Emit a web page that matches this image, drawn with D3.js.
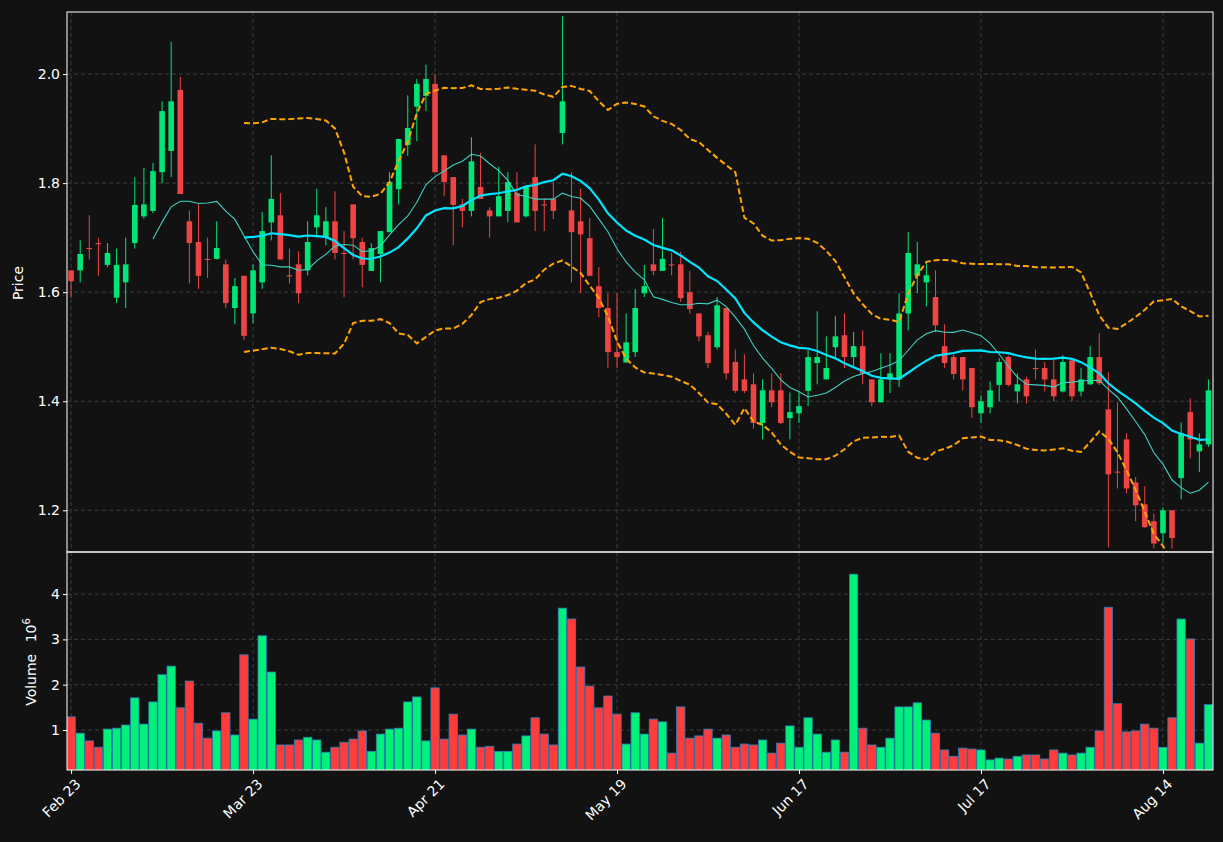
<!DOCTYPE html>
<html><head><meta charset="utf-8">
<script src="https://cdn.jsdelivr.net/npm/d3@7"></script>
<style>body{margin:0;background:#121212;}text{font-family:"DejaVu Sans",sans-serif;}</style>
</head><body><svg id="c" width="1223" height="842"></svg>
<script>
const opens  = [1.64,1.64,1.681,1.69,1.65,1.59,1.618,1.69,1.739,1.749,1.82,1.859,1.971,1.73,1.692,1.661,1.661,1.651,1.571,1.63,1.561,1.618,1.728,1.741,1.631,1.651,1.64,1.719,1.701,1.73,1.672,1.761,1.692,1.639,1.67,1.71,1.789,1.87,1.94,1.96,1.982,1.851,1.811,1.761,1.749,1.793,1.75,1.739,1.749,1.782,1.739,1.811,1.761,1.771,1.892,1.75,1.73,1.699,1.611,1.571,1.49,1.471,1.49,1.598,1.651,1.639,1.651,1.651,1.60,1.561,1.521,1.499,1.571,1.472,1.44,1.431,1.36,1.42,1.42,1.369,1.378,1.419,1.47,1.44,1.499,1.521,1.481,1.501,1.44,1.398,1.44,1.44,1.561,1.63,1.618,1.591,1.501,1.481,1.481,1.461,1.378,1.389,1.43,1.481,1.418,1.44,1.461,1.461,1.44,1.418,1.475,1.418,1.431,1.481,1.385,1.271,1.33,1.251,1.211,1.18,1.158,1.20,1.259,1.38,1.308,1.321];
const closes = [1.62,1.67,1.679,1.688,1.672,1.65,1.651,1.76,1.761,1.822,1.932,1.95,1.78,1.69,1.63,1.659,1.681,1.58,1.611,1.52,1.64,1.712,1.771,1.66,1.629,1.598,1.692,1.741,1.73,1.672,1.670,1.699,1.65,1.681,1.712,1.802,1.881,1.901,1.982,1.991,1.82,1.802,1.76,1.749,1.84,1.771,1.739,1.776,1.802,1.728,1.793,1.749,1.759,1.749,1.95,1.71,1.706,1.63,1.571,1.49,1.481,1.508,1.571,1.611,1.639,1.661,1.649,1.589,1.569,1.519,1.47,1.576,1.451,1.419,1.419,1.36,1.42,1.398,1.36,1.38,1.391,1.481,1.481,1.461,1.519,1.481,1.501,1.451,1.398,1.44,1.451,1.561,1.672,1.651,1.631,1.539,1.47,1.45,1.44,1.389,1.40,1.42,1.472,1.43,1.431,1.409,1.459,1.44,1.409,1.472,1.409,1.44,1.481,1.433,1.266,1.269,1.24,1.209,1.169,1.139,1.20,1.149,1.341,1.33,1.321,1.42];
const highs  = [1.64,1.695,1.741,1.70,1.69,1.68,1.70,1.811,1.828,1.837,1.95,2.059,1.995,1.75,1.761,1.70,1.73,1.66,1.626,1.63,1.651,1.747,1.851,1.782,1.68,1.675,1.73,1.79,1.756,1.785,1.712,1.761,1.70,1.69,1.712,1.82,1.881,1.961,1.991,2.017,2.0,1.851,1.811,1.771,1.884,1.855,1.756,1.83,1.82,1.82,1.795,1.871,1.771,1.802,2.106,1.82,1.79,1.736,1.646,1.598,1.598,1.561,1.606,1.65,1.716,1.736,1.672,1.674,1.639,1.561,1.527,1.591,1.571,1.495,1.486,1.451,1.44,1.451,1.451,1.416,1.416,1.494,1.565,1.519,1.556,1.561,1.527,1.53,1.44,1.488,1.488,1.598,1.71,1.692,1.655,1.64,1.541,1.486,1.481,1.461,1.411,1.436,1.479,1.484,1.451,1.445,1.495,1.472,1.476,1.484,1.476,1.461,1.501,1.525,1.453,1.398,1.341,1.261,1.244,1.194,1.205,1.20,1.361,1.405,1.341,1.44];
const lows   = [1.59,1.618,1.66,1.63,1.646,1.58,1.571,1.68,1.735,1.745,1.80,1.811,1.78,1.616,1.606,1.626,1.66,1.571,1.541,1.512,1.543,1.606,1.695,1.66,1.616,1.58,1.631,1.70,1.686,1.66,1.591,1.66,1.609,1.639,1.618,1.71,1.761,1.85,1.877,1.932,1.82,1.776,1.686,1.719,1.739,1.771,1.70,1.739,1.728,1.728,1.737,1.712,1.712,1.734,1.871,1.618,1.598,1.63,1.554,1.461,1.461,1.471,1.481,1.591,1.631,1.639,1.631,1.582,1.561,1.51,1.461,1.495,1.44,1.415,1.415,1.35,1.33,1.389,1.358,1.33,1.36,1.391,1.431,1.44,1.481,1.461,1.461,1.431,1.391,1.398,1.415,1.426,1.53,1.598,1.574,1.527,1.461,1.44,1.42,1.369,1.36,1.378,1.40,1.427,1.396,1.396,1.44,1.418,1.40,1.416,1.40,1.409,1.43,1.43,1.132,1.24,1.231,1.18,1.168,1.13,1.139,1.13,1.22,1.295,1.27,1.316];
const volumes = [1.29,0.93,0.76,0.62,1.02,1.04,1.11,1.71,1.13,1.62,2.22,2.41,1.49,2.08,1.15,0.82,0.98,1.38,0.89,2.66,1.24,3.08,2.28,0.67,0.67,0.78,0.84,0.78,0.51,0.62,0.73,0.8,0.98,0.53,0.91,1.02,1.04,1.62,1.73,0.76,1.93,0.8,1.35,0.89,1.02,0.62,0.64,0.53,0.53,0.69,0.87,1.27,0.91,0.67,3.69,3.45,2.39,1.97,1.49,1.75,1.35,0.69,1.38,0.91,1.24,1.18,0.49,1.51,0.82,0.87,1.02,0.82,0.89,0.62,0.69,0.67,0.78,0.49,0.71,1.09,0.62,1.27,0.91,0.51,0.78,0.51,4.44,1.04,0.67,0.62,0.82,1.51,1.51,1.6,1.22,0.93,0.56,0.42,0.6,0.58,0.56,0.34,0.38,0.36,0.42,0.45,0.45,0.36,0.56,0.49,0.45,0.49,0.62,0.98,3.71,1.58,0.96,0.98,1.13,1.04,0.62,1.27,3.45,3.01,0.71,1.56];
const tickIndex = [0,20,40,60,80,100,120];
const tickLabels = ["Feb 23","Mar 23","Apr 21","May 19","Jun 17","Jul 17","Aug 14"];
const priceTicks = [1.2,1.4,1.6,1.8,2.0];
const volumeTicks = [1,2,3,4];

const data = opens.map((o,i)=>({i,o,c:closes[i],h:highs[i],l:lows[i],v:volumes[i]}));
function ma(n){return closes.map((_,i)=>i<n-1?null:d3.mean(closes.slice(i-n+1,i+1)));}
function sd(n){return closes.map((_,i)=>{if(i<n-1)return null;const s=closes.slice(i-n+1,i+1),m=d3.mean(s);return Math.sqrt(d3.mean(s,v=>(v-m)*(v-m)));});}
const ma10=ma(10), ma20=ma(20), s20=sd(20);
const bbU=ma20.map((m,i)=>m==null?null:m+2*s20[i]), bbL=ma20.map((m,i)=>m==null?null:m-2*s20[i]);

const svg=d3.select("#c");
const L=67,R=1213,PT=12,PB=552,VT=552,VB=770;
const GREEN="#00e676",RED="#ef4444";
svg.append("rect").attr("width",1223).attr("height",842).attr("fill","#121212");
const x=d3.scaleLinear().domain([-0.45,125.5]).range([L,R]);
const y=d3.scaleLinear().domain([1.1235,2.1138]).range([PB,PT]);
const yv=d3.scaleLinear().domain([0,4.907]).range([775.3,553]);
const defs=svg.append("defs");
defs.append("clipPath").attr("id","cp").append("rect").attr("x",L).attr("y",PT).attr("width",R-L).attr("height",PB-PT);
defs.append("clipPath").attr("id","cv").append("rect").attr("x",L).attr("y",VT).attr("width",R-L).attr("height",VB-VT);
const grid="#3c3c3c";
const g=svg.append("g");
tickIndex.forEach(t=>{[ [PT,PB],[VT,VB] ].forEach(([a,b])=>g.append("line").attr("x1",x(t)).attr("x2",x(t)).attr("y1",a).attr("y2",b).attr("stroke",grid).attr("stroke-dasharray","4,3")); });
priceTicks.forEach(t=>g.append("line").attr("x1",L).attr("x2",R).attr("y1",y(t)).attr("y2",y(t)).attr("stroke",grid).attr("stroke-dasharray","4,3"));
volumeTicks.forEach(t=>g.append("line").attr("x1",L).attr("x2",R).attr("y1",yv(t)).attr("y2",yv(t)).attr("stroke",grid).attr("stroke-dasharray","4,3"));

const pg=svg.append("g").attr("clip-path","url(#cp)");
const bw=5.6;
pg.selectAll(".w").data(data).join("line").attr("x1",d=>x(d.i)).attr("x2",d=>x(d.i)).attr("y1",d=>y(d.h)).attr("y2",d=>y(d.l)).attr("stroke",d=>d.c>=d.o?GREEN:RED).attr("stroke-width",1);
pg.selectAll(".b").data(data).join("rect").attr("x",d=>x(d.i)-bw/2).attr("width",bw).attr("y",d=>y(Math.max(d.o,d.c))).attr("height",d=>Math.max(1,Math.abs(y(d.o)-y(d.c)))).attr("fill",d=>d.c>=d.o?GREEN:RED);
const line=arr=>d3.line().defined(d=>d!=null).x((d,i)=>x(i)).y(d=>y(d))(arr);
pg.append("path").attr("d",line(bbU)).attr("fill","none").attr("stroke","#ffa500").attr("stroke-width",2).attr("stroke-dasharray","6,3");
pg.append("path").attr("d",line(bbL)).attr("fill","none").attr("stroke","#ffa500").attr("stroke-width",2).attr("stroke-dasharray","6,3");
pg.append("path").attr("d",line(ma10)).attr("fill","none").attr("stroke","#40d0c0").attr("stroke-width",1.1);
pg.append("path").attr("d",line(ma20)).attr("fill","none").attr("stroke","#00e5ff").attr("stroke-width",2.2);

const vg=svg.append("g").attr("clip-path","url(#cv)");
const vw=x(0.92)-x(0);
vg.selectAll("rect").data(data).join("rect").attr("x",d=>x(d.i)-vw/2).attr("width",vw).attr("y",d=>yv(d.v)).attr("height",d=>775.3-yv(d.v)).attr("fill",d=>d.c>=d.o?"#00f07a":"#ff3b3b").attr("stroke","#2a7fb8").attr("stroke-width",0.8);

svg.append("rect").attr("x",L).attr("y",PT).attr("width",R-L).attr("height",PB-PT).attr("fill","none").attr("stroke","#fff");
svg.append("rect").attr("x",L).attr("y",VT).attr("width",R-L).attr("height",VB-VT).attr("fill","none").attr("stroke","#fff");
const ya=svg.append("g").attr("transform",`translate(${L},0)`).call(d3.axisLeft(y).tickValues(priceTicks).tickFormat(d3.format(".1f")).tickSize(4));
const yva=svg.append("g").attr("transform",`translate(${L},0)`).call(d3.axisLeft(yv).tickValues(volumeTicks).tickFormat(d3.format("d")).tickSize(4));
const xa=svg.append("g").attr("transform",`translate(0,${VB})`).call(d3.axisBottom(x).tickValues(tickIndex).tickFormat((d,i)=>tickLabels[i]).tickSize(4));
[ya,yva,xa].forEach(a=>{a.select(".domain").remove();a.selectAll("line").attr("stroke","#fff");a.selectAll("text").attr("fill","#fff").attr("font-size",14);});
xa.selectAll("text").attr("text-anchor","end").attr("dx",0).attr("dy",0).attr("transform","translate(5,10) rotate(-45)");
svg.append("text").attr("transform","translate(23,283) rotate(-90)").attr("text-anchor","middle").attr("fill","#fff").attr("font-size",14).text("Price");
const vt=svg.append("text").attr("transform","translate(36,662) rotate(-90)").attr("text-anchor","middle").attr("fill","#fff").attr("font-size",14);
vt.append("tspan").text("Volume\u2002 10");
vt.append("tspan").attr("dy",-6).attr("font-size",10).text("6");
</script></body></html>
